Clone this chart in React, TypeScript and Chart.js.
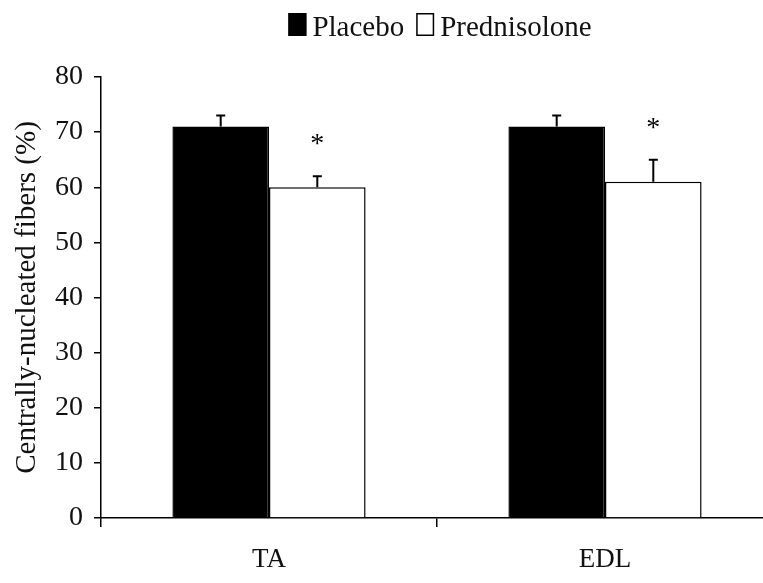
import React, { useEffect, useRef } from 'react';
import { Chart, registerables } from 'chart.js';

Chart.register(...registerables);

const categories = ['TA', 'EDL'];
const seriesNames = ['Placebo', 'Prednisolone'];
const placeboValues = [71, 71];
const prednisoloneValues = [60, 61];
const placeboErrors = [2, 2];
const prednisoloneErrors = [2, 4];
const placeboMarks = ['', ''];
const prednisoloneMarks = ['*', '*'];
const yTickValues = [0, 10, 20, 30, 40, 50, 60, 70, 80];
const yTitle = 'Centrally-nucleated fibers (%)';

const FONT = '"Liberation Serif", "Times New Roman", serif';
const INK = '#111';

const errors = [placeboErrors, prednisoloneErrors];
const marks = [placeboMarks, prednisoloneMarks];
const fills = ['#000', '#fff'];

const errorBarPlugin = {
  id: 'errorBars',
  afterDatasetsDraw(chart: any) {
    const ctx = chart.ctx;
    const yScale = chart.scales.y;
    ctx.save();
    chart.data.datasets.forEach((ds: any, i: number) => {
      const meta = chart.getDatasetMeta(i);
      meta.data.forEach((bar: any, j: number) => {
        const v = ds.data[j];
        const e = errors[i][j];
        const x = bar.x;
        const y0 = yScale.getPixelForValue(v);
        const y1 = yScale.getPixelForValue(v + e);
        ctx.strokeStyle = '#000';
        ctx.lineWidth = 2;
        ctx.beginPath();
        ctx.moveTo(x, y0);
        ctx.lineTo(x, y1);
        ctx.moveTo(x - 4.5, y1);
        ctx.lineTo(x + 4.5, y1);
        ctx.stroke();
        const m = marks[i][j];
        if (m) {
          ctx.fillStyle = '#000';
          ctx.font = `28px ${FONT}`;
          ctx.textAlign = 'center';
          ctx.textBaseline = 'alphabetic';
          ctx.fillText(m, x, y1 - 24);
        }
      });
    });
    ctx.restore();
  },
};

const legendPlugin = {
  id: 'customLegend',
  afterDraw(chart: any) {
    const ctx = chart.ctx;
    const area = chart.chartArea;
    ctx.save();
    ctx.font = `29px ${FONT}`;
    const boxW = 18;
    const boxH = 23;
    const gap = 6;
    const itemGap = 12;
    const labels = chart.data.datasets.map((d: any) => d.label);
    const widths = labels.map((l: string) => ctx.measureText(l).width);
    let total = 0;
    widths.forEach((w: number, i: number) => {
      total += boxW + gap + w + (i < widths.length - 1 ? itemGap : 0);
    });
    let x = (area.left + area.right) / 2 - total / 2 + 3;
    const baseline = 36;
    labels.forEach((l: string, i: number) => {
      ctx.fillStyle = fills[i];
      ctx.fillRect(x, 13, boxW, boxH);
      ctx.strokeStyle = '#000';
      ctx.lineWidth = 1.5;
      ctx.strokeRect(x + 0.75, 13.75, boxW - 1.5, boxH - 1.5);
      x += boxW + gap;
      ctx.fillStyle = INK;
      ctx.textAlign = 'left';
      ctx.textBaseline = 'alphabetic';
      ctx.fillText(l, x, baseline);
      x += widths[i] + itemGap;
    });
    ctx.restore();
  },
};

export default function App() {
  const ref = useRef<HTMLCanvasElement>(null);

  useEffect(() => {
    if (!ref.current) return;
    const chart = new Chart(ref.current, {
      type: 'bar',
      data: {
        labels: categories,
        datasets: [
          {
            label: seriesNames[0],
            data: placeboValues,
            backgroundColor: '#000',
            borderColor: '#000',
            borderWidth: 1.5,
            barPercentage: 1,
            categoryPercentage: 0.575,
          },
          {
            label: seriesNames[1],
            data: prednisoloneValues,
            backgroundColor: '#fff',
            borderColor: '#000',
            borderWidth: 1.5,
            barPercentage: 1,
            categoryPercentage: 0.575,
          },
        ],
      },
      options: {
        responsive: false,
        animation: false,
        devicePixelRatio: 1,
        layout: { padding: { top: 77, right: 2, bottom: 0, left: 0 } },
        plugins: {
          legend: { display: false },
          tooltip: { enabled: false },
        },
        scales: {
          x: {
            grid: {
              display: true,
              drawOnChartArea: false,
              drawTicks: true,
              tickLength: 9,
              color: '#000',
              lineWidth: 1.5,
            },
            border: { display: true, color: '#000', width: 1.5 },
            ticks: {
              color: INK,
              font: { family: FONT, size: 27 },
              padding: 17,
            },
            afterFit(scale: any) {
              scale.height = 65;
            },
          },
          y: {
            min: 0,
            max: 80,
            afterBuildTicks(scale: any) {
              scale.ticks = yTickValues.map((v) => ({ value: v }));
            },
            grid: {
              display: true,
              drawOnChartArea: false,
              drawTicks: true,
              tickLength: 7,
              color: '#000',
              lineWidth: 1.5,
            },
            border: { display: true, color: '#000', width: 1.5 },
            ticks: {
              color: INK,
              font: { family: FONT, size: 28 },
              padding: 11,
            },
            title: {
              display: true,
              text: yTitle,
              color: INK,
              font: { family: FONT, size: 29 },
              padding: { top: 10, bottom: 0 },
            },
            afterFit(scale: any) {
              scale.width = 101;
            },
          },
        },
      },
      plugins: [errorBarPlugin, legendPlugin],
    });
    return () => chart.destroy();
  }, []);

  return (
    <div
      style={{
        position: 'absolute',
        left: 0,
        top: 0,
        width: 763,
        height: 583,
        overflow: 'hidden',
        background: '#fff',
      }}
    >
      <canvas ref={ref} width={775} height={583} style={{ display: 'block' }} />
    </div>
  );
}
